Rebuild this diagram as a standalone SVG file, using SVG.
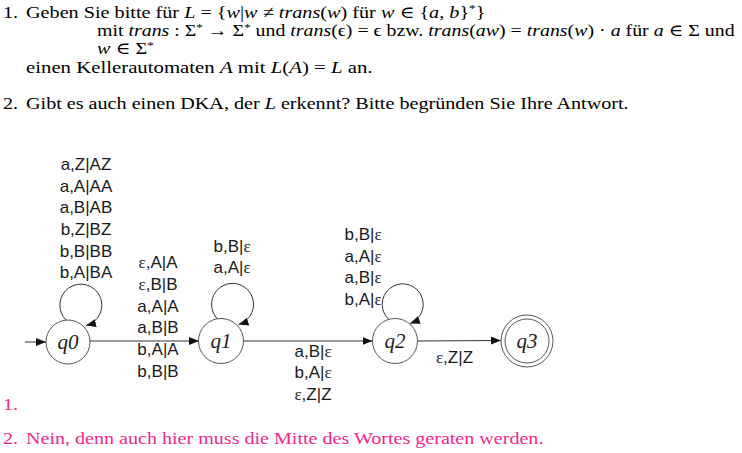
<svg xmlns="http://www.w3.org/2000/svg" width="742" height="453" viewBox="0 0 742 453">
<style>
.tx{font-family:"Liberation Serif","DejaVu Serif",serif;font-size:17px;fill:#000}
.pk{font-family:"Liberation Serif","DejaVu Serif",serif;font-size:17px;fill:#f0288c}
.i{font-style:italic}
.lb{font-family:"Liberation Sans",Arial,sans-serif;font-size:17px;fill:#1a1a1a;text-anchor:middle}
.e{font-family:"Liberation Serif",serif}
.nd{fill:#fff;stroke:#555;stroke-width:1}
.nl{font-family:"Liberation Serif",serif;font-style:italic;font-size:21px;fill:#222;text-anchor:middle}
.ed{fill:none;stroke:#333;stroke-width:1;marker-end:url(#ah)}
</style>
<defs>
<marker id="ah" markerWidth="10" markerHeight="8" refX="10" refY="4" orient="auto" markerUnits="userSpaceOnUse">
<path d="M0,0 L10,4 L0,8 z" fill="#111"/>
</marker>
</defs>
<rect width="742" height="453" fill="#fff"/>
<g id="question">
<text class="tx" transform="translate(3,17.5) scale(1.186,1)">1.</text>
<text class="tx" transform="translate(26,17.5) scale(1.189,1)">Geben Sie bitte für <tspan class="i">L</tspan> = {<tspan class="i">w</tspan>|<tspan class="i">w</tspan> ≠ <tspan class="i">trans</tspan>(<tspan class="i">w</tspan>) für <tspan class="i">w</tspan> ∈ {<tspan class="i">a</tspan>, <tspan class="i">b</tspan>}<tspan font-size="11" dy="-6">*</tspan><tspan dy="6">}</tspan></text>
<text class="tx" transform="translate(97,35.5) scale(1.169,1)">mit <tspan class="i">trans</tspan> : Σ<tspan font-size="11" dy="-5">*</tspan><tspan dy="5"> → Σ</tspan><tspan font-size="11" dy="-5">*</tspan><tspan dy="5"> und </tspan><tspan class="i">trans</tspan>(ϵ) = ϵ bzw. <tspan class="i">trans</tspan>(<tspan class="i">aw</tspan>) = <tspan class="i">trans</tspan>(<tspan class="i">w</tspan>) · <tspan class="i">a</tspan> für <tspan class="i">a</tspan> ∈ Σ und</text>
<text class="tx" transform="translate(97,54) scale(1.186,1)"><tspan class="i">w</tspan> ∈ Σ<tspan font-size="11" dy="-5">*</tspan></text>
<text class="tx" transform="translate(26,72.5) scale(1.223,1)">einen Kellerautomaten <tspan class="i">A</tspan> mit <tspan class="i">L</tspan>(<tspan class="i">A</tspan>) = <tspan class="i">L</tspan> an.</text>
<text class="tx" transform="translate(3,109) scale(1.186,1)">2.</text>
<text class="tx" transform="translate(26,109) scale(1.185,1)">Gibt es auch einen DKA, der <tspan class="i">L</tspan> erkennt? Bitte begründen Sie Ihre Antwort.</text>
</g>
<g id="answer">
<text class="pk" transform="translate(3,410) scale(1.186,1)">1.</text>
<text class="pk" transform="translate(3,443.5) scale(1.186,1)">2.</text>
<text class="pk" transform="translate(26,443.5) scale(1.181,1)">Nein, denn auch hier muss die Mitte des Wortes geraten werden.</text>
</g>
<g id="connectors">
<path class="ed" d="M25,342 L46,342"/>
<path class="ed" d="M90,341 L199,341"/>
<path class="ed" d="M243.5,341 L372.5,341"/>
<path class="ed" d="M417.5,341 L501,340.5"/>
<path class="ed" d="M66,320 A21,21 0 1 1 86,325.5"/>
<path class="ed" d="M218,319.5 A21,21 0 1 1 238.5,324.5"/>
<path class="ed" d="M389.5,320 A20.5,20.5 0 1 1 410,323.5"/>
</g>
<g id="labels">
<text class="lb" x="86" y="170">a,Z|AZ</text>
<text class="lb" x="86" y="191.7">a,A|AA</text>
<text class="lb" x="86" y="213.3">a,B|AB</text>
<text class="lb" x="86" y="235">b,Z|BZ</text>
<text class="lb" x="86" y="256.7">b,B|BB</text>
<text class="lb" x="86" y="278.3">b,A|BA</text>
<text class="lb" x="158" y="268.3"><tspan class="e">ε</tspan>,A|A</text>
<text class="lb" x="158" y="290"><tspan class="e">ε</tspan>,B|B</text>
<text class="lb" x="158" y="311.7">a,A|A</text>
<text class="lb" x="158" y="333.3">a,B|B</text>
<text class="lb" x="158" y="355">b,A|A</text>
<text class="lb" x="158" y="376.7">b,B|B</text>
<text class="lb" x="232" y="251.7">b,B|<tspan class="e">ε</tspan></text>
<text class="lb" x="232" y="273.3">a,A|<tspan class="e">ε</tspan></text>
<text class="lb" x="363" y="240">b,B|<tspan class="e">ε</tspan></text>
<text class="lb" x="363" y="261.7">a,A|<tspan class="e">ε</tspan></text>
<text class="lb" x="363" y="283.3">a,B|<tspan class="e">ε</tspan></text>
<text class="lb" x="363" y="305">b,A|<tspan class="e">ε</tspan></text>
<text class="lb" x="313" y="356.7">a,B|<tspan class="e">ε</tspan></text>
<text class="lb" x="313" y="378.3">b,A|<tspan class="e">ε</tspan></text>
<text class="lb" x="313" y="400"><tspan class="e">ε</tspan>,Z|Z</text>
<text class="lb" x="454.5" y="363.3"><tspan class="e">ε</tspan>,Z|Z</text>
</g>
<g id="q0">
<circle class="nd" cx="68" cy="342" r="22"/>
<text class="nl" x="68" y="349">q0</text>
</g>
<g id="q1">
<circle class="nd" cx="221" cy="341" r="22.5"/>
<text class="nl" x="221" y="348">q1</text>
</g>
<g id="q2">
<circle class="nd" cx="395" cy="341" r="22.5"/>
<text class="nl" x="395" y="348">q2</text>
</g>
<g id="q3">
<circle class="nd" cx="527" cy="341" r="26"/>
<circle class="nd" cx="527" cy="341" r="22"/>
<text class="nl" x="527" y="348">q3</text>
</g>
</svg>
